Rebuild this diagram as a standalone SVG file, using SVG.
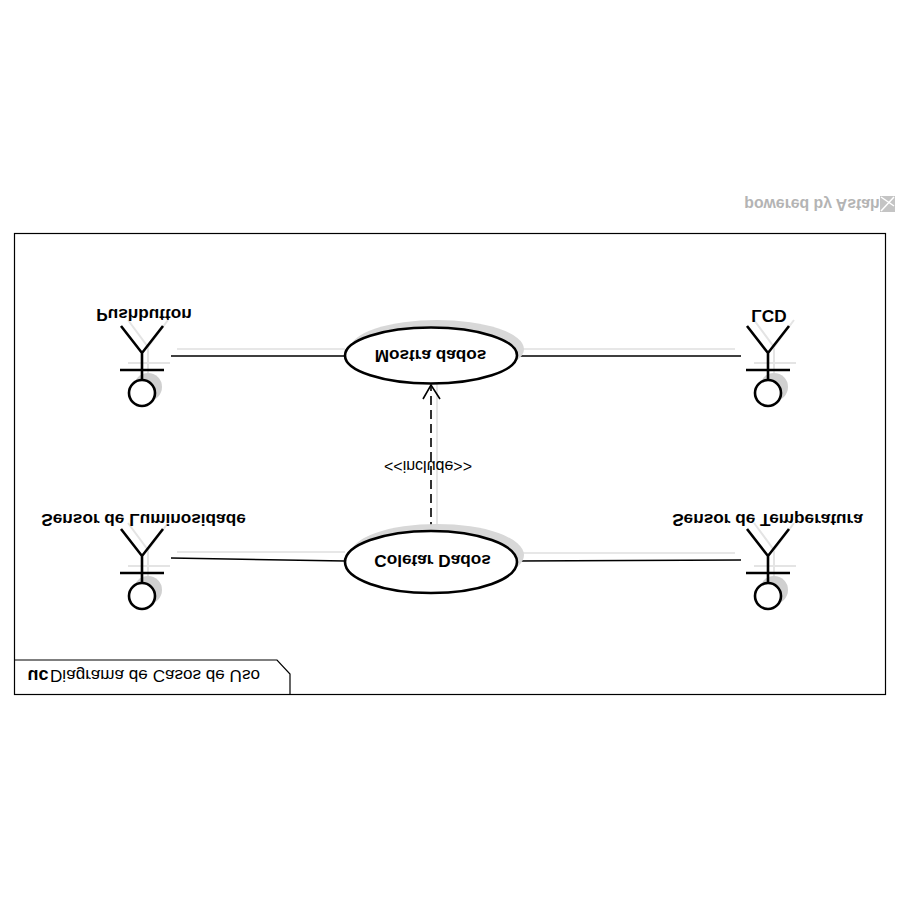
<svg xmlns="http://www.w3.org/2000/svg" width="900" height="900" viewBox="0 0 900 900">
<style>
text{font-family:"Liberation Sans",Arial,sans-serif;fill:#000;text-anchor:middle}
.b{font-weight:bold;font-size:17.2px}
.line{fill:none;stroke:#000;stroke-width:1.6}
.sh{fill:none;stroke:#e0e0e0;stroke-width:1.6}
.actor{fill:none;stroke:#000;stroke-width:2.6}
.ashadow{fill:none;stroke:#e4e4e4;stroke-width:2}
.head{fill:#fff;stroke:#000;stroke-width:2.6}
.hs{fill:#d0d0d0}
.uc{fill:#fff;stroke:#000;stroke-width:2.6}
.ucs{fill:#d8d8d8}
</style>
<defs>
<g id="actor">
<circle class="hs" cx="6" cy="-6" r="14"/>
<path class="ashadow" d="M-14-73L6-46L26-73M6-46V-20M-14-30H28"/>
<path class="actor" d="M-21-67L0-40L21-67M0-40V-13M-22-23H22"/>
<circle class="head" r="13"/>
</g>
</defs>
<rect width="900" height="900" fill="#fff"/>
<g id="frame">
<rect x="14.5" y="233.5" width="871" height="461" fill="none" stroke="#000" stroke-width="1.2"/>
<path d="M15 660H277L290 674V694" fill="none" stroke="#000" stroke-width="1.2"/>
<text transform="matrix(1 0 0 -1 38 670)" font-size="18" font-weight="bold">uc</text>
<text transform="matrix(1 0 0 -1 155 670)" font-size="17.1">Diagrama de Casos de Uso</text>
</g>
<g id="watermark">
<text transform="matrix(1 0 0 -1 812 199)" font-size="15.8" font-weight="bold" style="fill:#b4b4b4">powered by Astah</text>
<rect x="880" y="196" width="15" height="16" fill="#c4c4c4"/>
<path d="M881 211L894 197M881 197L894 206" stroke="#fff" stroke-width="1.5" fill="none"/>
</g>
<g id="connectors">
<path class="sh" d="M177 349H345M520 349H735M177 552H345M520 553H735"/>
<path class="sh" d="M437 525V380"/>
<path class="line" d="M171 356H345M517 356H741M171 558L345 561M517 561L741 560"/>
<path class="line" d="M431 531V387" stroke-dasharray="9 5"/>
<path class="line" d="M423 399L431 385L440 399"/>
</g>
<g id="actor-pushbutton"><use href="#actor" x="142" y="393"/>
<text class="b" transform="matrix(1 0 0 -1 144 308.5)">Pushbutton</text></g>
<g id="actor-lcd"><use href="#actor" x="768" y="393"/>
<text class="b" transform="matrix(1 0 0 -1 769 310)">LCD</text></g>
<g id="actor-luminosidade"><use href="#actor" x="142" y="596"/>
<text class="b" transform="matrix(1 0 0 -1 143.5 513.5)">Sensor de Luminosidade</text></g>
<g id="actor-temperatura"><use href="#actor" x="768" y="596"/>
<text class="b" transform="matrix(1 0 0 -1 767.5 513.5)">Sensor de Temperatura</text></g>
<g id="uc-mostra">
<ellipse class="ucs" cx="437" cy="349" rx="87" ry="29"/>
<ellipse class="uc" cx="431" cy="355.5" rx="86" ry="28"/>
<text class="b" transform="matrix(1 0 0 -1 430.5 350)">Mostra dados</text>
</g>
<g id="uc-coletar">
<ellipse class="ucs" cx="437" cy="555" rx="87" ry="31"/>
<ellipse class="uc" cx="431" cy="562" rx="86" ry="31"/>
<text class="b" transform="matrix(1 0 0 -1 432.5 555)">Coletar Dados</text>
</g>
<g id="include-label">
<text transform="matrix(1 0 0 -1 428 461)" font-size="16">&lt;&lt;include&gt;&gt;</text>
</g>
</svg>
